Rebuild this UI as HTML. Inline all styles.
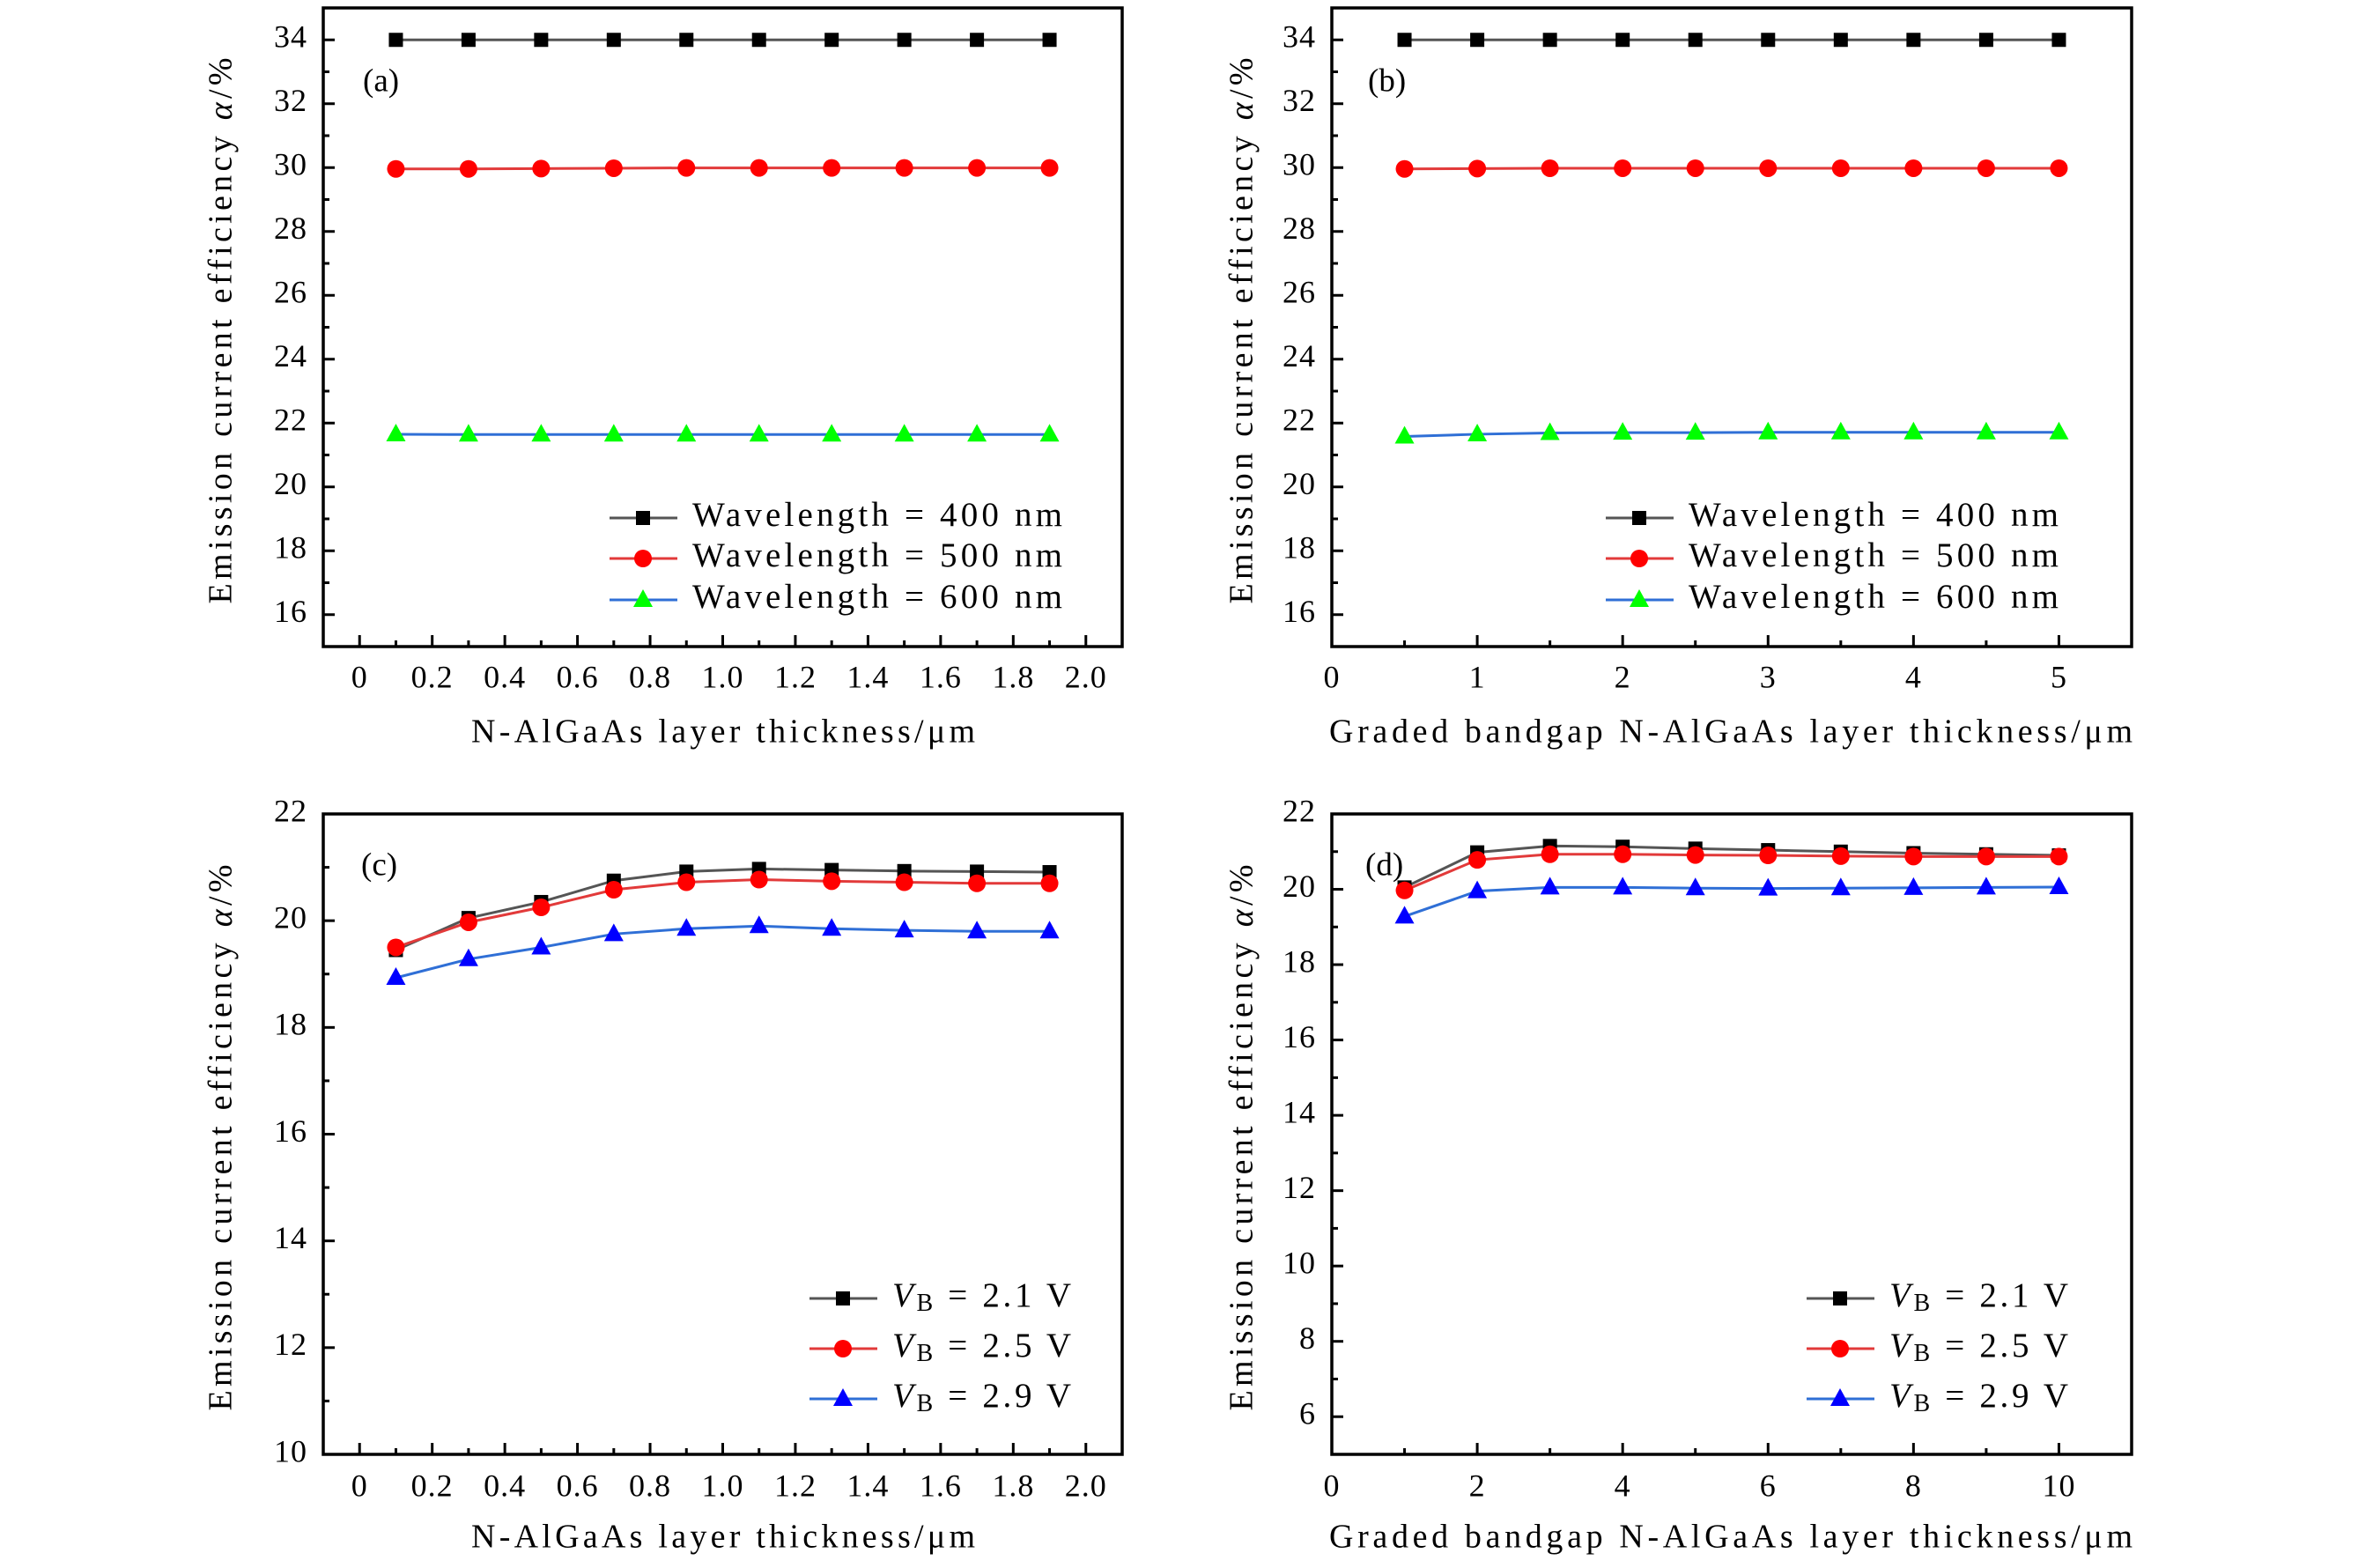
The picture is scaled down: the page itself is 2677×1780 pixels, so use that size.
<!DOCTYPE html>
<html><head><meta charset="utf-8"><style>
html,body{margin:0;padding:0;background:#fff;}
svg{display:block;font-family:"Liberation Serif",serif;}
</style></head><body>
<svg id="fig" width="2677" height="1780" viewBox="0 0 2677 1780" xmlns="http://www.w3.org/2000/svg"></svg>
<script>
// ---- data ----
const xA = [0.1,0.3,0.5,0.7,0.9,1.1,1.3,1.5,1.7,1.9];
const a400 = [34,34,34,34,34,34,34,34,34,34];
const a500 = [29.96,29.96,29.97,29.98,29.99,29.99,29.99,29.99,29.99,29.99];
const a600 = [21.65,21.64,21.64,21.64,21.64,21.64,21.64,21.64,21.64,21.64];
const xB = [0.5,1,1.5,2,2.5,3,3.5,4,4.5,5];
const b400 = [34,34,34,34,34,34,34,34,34,34];
const b500 = [29.96,29.97,29.98,29.98,29.98,29.98,29.98,29.98,29.98,29.98];
const b600 = [21.58,21.65,21.69,21.7,21.7,21.71,21.71,21.71,21.71,21.71];
const xC = [0.1,0.3,0.5,0.7,0.9,1.1,1.3,1.5,1.7,1.9];
const c21 = [19.45,20.05,20.35,20.75,20.92,20.97,20.95,20.93,20.92,20.91];
const c25 = [19.5,19.97,20.25,20.58,20.72,20.77,20.74,20.72,20.7,20.7];
const c29 = [18.93,19.28,19.5,19.75,19.85,19.9,19.85,19.82,19.8,19.8];
const xD = [1,2,3,4,5,6,7,8,9,10];
const d21 = [20.05,20.98,21.15,21.13,21.08,21.04,21.0,20.96,20.93,20.9];
const d25 = [19.97,20.78,20.93,20.93,20.91,20.9,20.88,20.87,20.87,20.87];
const d29 = [19.28,19.95,20.05,20.05,20.03,20.02,20.03,20.04,20.05,20.06];
const tickA = ['0','0.2','0.4','0.6','0.8','1.0','1.2','1.4','1.6','1.8','2.0'];
const tickB = ['0','1','2','3','4','5'];
const tickD = ['0','2','4','6','8','10'];

const NS='http://www.w3.org/2000/svg';
const svg=document.getElementById('fig');
function mk(tag,attrs,parent){const e=document.createElementNS(NS,tag);for(const k in attrs)e.setAttribute(k,attrs[k]);(parent||svg).appendChild(e);return e;}

function panel(cfg){
  const g=mk('g',{});
  
  
  const L=cfg.L,R=cfg.R,T=cfg.T,B=cfg.B;
  const sx=v=>L+(v-cfg.x0)/(cfg.x1-cfg.x0)*(R-L);
  const sy=v=>B-(v-cfg.y0)/(cfg.y1-cfg.y0)*(B-T);
  cfg.xt.forEach((lab,i)=>{
    const v=cfg.xStart+i*cfg.xStep, X=sx(v);
    mk('line',{x1:X,x2:X,y1:B,y2:B-13,stroke:'#000','stroke-width':3},g);
    const t=mk('text',{x:X,y:cfg.xTickY,'font-size':36,'text-anchor':'middle','dominant-baseline':'middle','letter-spacing':'1'},g);
    t.textContent=lab;
    
    
    if(i<cfg.xt.length-1){const m=sx(v+cfg.xStep/2);mk('line',{x1:m,x2:m,y1:B,y2:B-7,stroke:'#000','stroke-width':3},g);}
  });
  for(let v=cfg.yMaj0; v<=cfg.y1+1e-9; v+=cfg.yStep){
    const Y=sy(v);
    mk('line',{x1:L,x2:L+13,y1:Y,y2:Y,stroke:'#000','stroke-width':3},g);
    const t=mk('text',{x:L-18,y:Y,'font-size':36,'text-anchor':'end','dominant-baseline':'middle','letter-spacing':'1'},g);
    t.textContent=String(v);
    
    
  }
  for(let v=cfg.yMaj0-cfg.yStep/2; v<cfg.y1; v+=cfg.yStep){
    if(v<=cfg.y0+1e-9) continue;
    const Y=sy(v);
    mk('line',{x1:L,x2:L+7,y1:Y,y2:Y,stroke:'#000','stroke-width':3},g);
  }
  const fr=mk('rect',{x:L,y:T,width:R-L,height:B-T,fill:'none',stroke:'#000','stroke-width':3.5},g);
  
  
  cfg.series.forEach(s=>{
    const sg=mk('g',{},g);
    
    
    const pts=cfg.x.map((xv,i)=>sx(xv)+','+sy(s.y[i])).join(' ');
    mk('polyline',{points:pts,fill:'none',stroke:s.line,'stroke-width':3},sg);
    cfg.x.forEach((xv,i)=>marker(sg,s.shape,sx(xv),sy(s.y[i]),s.fill));
  });
  const lg=mk('g',{},g);
  
  
  cfg.series.forEach((s,i)=>{
    const Y=cfg.legY[i];
    const eg=mk('g',{},lg);
    
    
    mk('line',{x1:cfg.legX,x2:cfg.legX+77,y1:Y,y2:Y,stroke:s.line,'stroke-width':3},eg);
    marker(eg,s.shape,cfg.legX+38,Y,s.fill);
    const t=mk('text',{x:cfg.legX+94,y:Y,'font-size':39,'dominant-baseline':'middle',textLength:cfg.legW,lengthAdjust:'spacing'},eg);
    t.innerHTML=s.label;
  });
  const pl=mk('text',{x:cfg.plX,y:cfg.plY,'font-size':37,'dominant-baseline':'middle'},g);
  pl.textContent='('+cfg.id+')';
  
  
  const xt=mk('text',{x:cfg.xTitleX,y:cfg.xTitleY,'font-size':38,'text-anchor':'middle','dominant-baseline':'middle',textLength:cfg.xTitleW,lengthAdjust:'spacing'},g);
  xt.textContent=cfg.xTitle;
  
  
  const yt=mk('text',{x:0,y:0,'font-size':38,'text-anchor':'middle','dominant-baseline':'middle',textLength:620,lengthAdjust:'spacing',transform:'translate('+cfg.yTitleX+','+((T+B)/2+4)+') rotate(-90)'},g);
  yt.innerHTML='Emission current efficiency <tspan font-style="italic">α</tspan>/%';
  
  
}
function marker(g,shape,x,y,fill){
  if(shape==='sq') mk('rect',{x:x-8,y:y-8,width:16,height:16,fill:fill},g);
  else if(shape==='ci') mk('circle',{cx:x,cy:y,r:10,fill:fill},g);
  else mk('polygon',{points:(x)+','+(y-12)+' '+(x-11)+','+(y+8)+' '+(x+11)+','+(y+8),fill:fill},g);
}
const WL=n=>'Wavelength = '+n+' nm';
const VB=v=>'<tspan font-style="italic">V</tspan><tspan font-size="28" dy="8">B</tspan><tspan dy="-8"> = '+v+' V</tspan>';

panel({id:'a',L:367,R:1274,T:9,B:734,x0:-0.1,x1:2.1,y0:15,y1:35,xStart:0,xStep:0.2,xt:tickA,yMaj0:16,yStep:2,
  xTickY:772,xTitleX:821,xTitleY:834,xTitleW:572,xTitle:'N-AlGaAs layer thickness/μm',yTitleX:254,x:xA,
  series:[{name:'400nm',y:a400,line:'#555',fill:'#000',shape:'sq',label:WL(400)},
          {name:'500nm',y:a500,line:'#e23a3a',fill:'#ff0000',shape:'ci',label:WL(500)},
          {name:'600nm',y:a600,line:'#2f6fd6',fill:'#00ff00',shape:'tr',label:WL(600)}],
  legX:692,legW:420,legY:[588,634,681],plX:412,plY:95});
panel({id:'b',L:1512,R:2420,T:9,B:734,x0:0,x1:5.5,y0:15,y1:35,xStart:0,xStep:1,xt:tickB,yMaj0:16,yStep:2,
  xTickY:772,xTitleX:1965,xTitleY:834,xTitleW:912,xTitle:'Graded bandgap N-AlGaAs layer thickness/μm',yTitleX:1413,x:xB,
  series:[{name:'400nm',y:b400,line:'#555',fill:'#000',shape:'sq',label:WL(400)},
          {name:'500nm',y:b500,line:'#e23a3a',fill:'#ff0000',shape:'ci',label:WL(500)},
          {name:'600nm',y:b600,line:'#2f6fd6',fill:'#00ff00',shape:'tr',label:WL(600)}],
  legX:1823,legW:420,legY:[588,634,681],plX:1553,plY:95});
panel({id:'c',L:367,R:1274,T:924,B:1651,x0:-0.1,x1:2.1,y0:10,y1:22,xStart:0,xStep:0.2,xt:tickA,yMaj0:10,yStep:2,
  xTickY:1690,xTitleX:821,xTitleY:1748,xTitleW:572,xTitle:'N-AlGaAs layer thickness/μm',yTitleX:254,x:xC,
  series:[{name:'2.1V',y:c21,line:'#555',fill:'#000',shape:'sq',label:VB('2.1')},
          {name:'2.5V',y:c25,line:'#e23a3a',fill:'#ff0000',shape:'ci',label:VB('2.5')},
          {name:'2.9V',y:c29,line:'#2f6fd6',fill:'#0000ff',shape:'tr',label:VB('2.9')}],
  legX:919,legW:203,legY:[1474,1531,1588],plX:410,plY:985});
panel({id:'d',L:1512,R:2420,T:924,B:1651,x0:0,x1:11,y0:5,y1:22,xStart:0,xStep:2,xt:tickD,yMaj0:6,yStep:2,
  xTickY:1690,xTitleX:1965,xTitleY:1748,xTitleW:912,xTitle:'Graded bandgap N-AlGaAs layer thickness/μm',yTitleX:1413,x:xD,
  series:[{name:'2.1V',y:d21,line:'#555',fill:'#000',shape:'sq',label:VB('2.1')},
          {name:'2.5V',y:d25,line:'#e23a3a',fill:'#ff0000',shape:'ci',label:VB('2.5')},
          {name:'2.9V',y:d29,line:'#2f6fd6',fill:'#0000ff',shape:'tr',label:VB('2.9')}],
  legX:2051,legW:203,legY:[1474,1531,1588],plX:1550,plY:985});
</script>
</body></html>
